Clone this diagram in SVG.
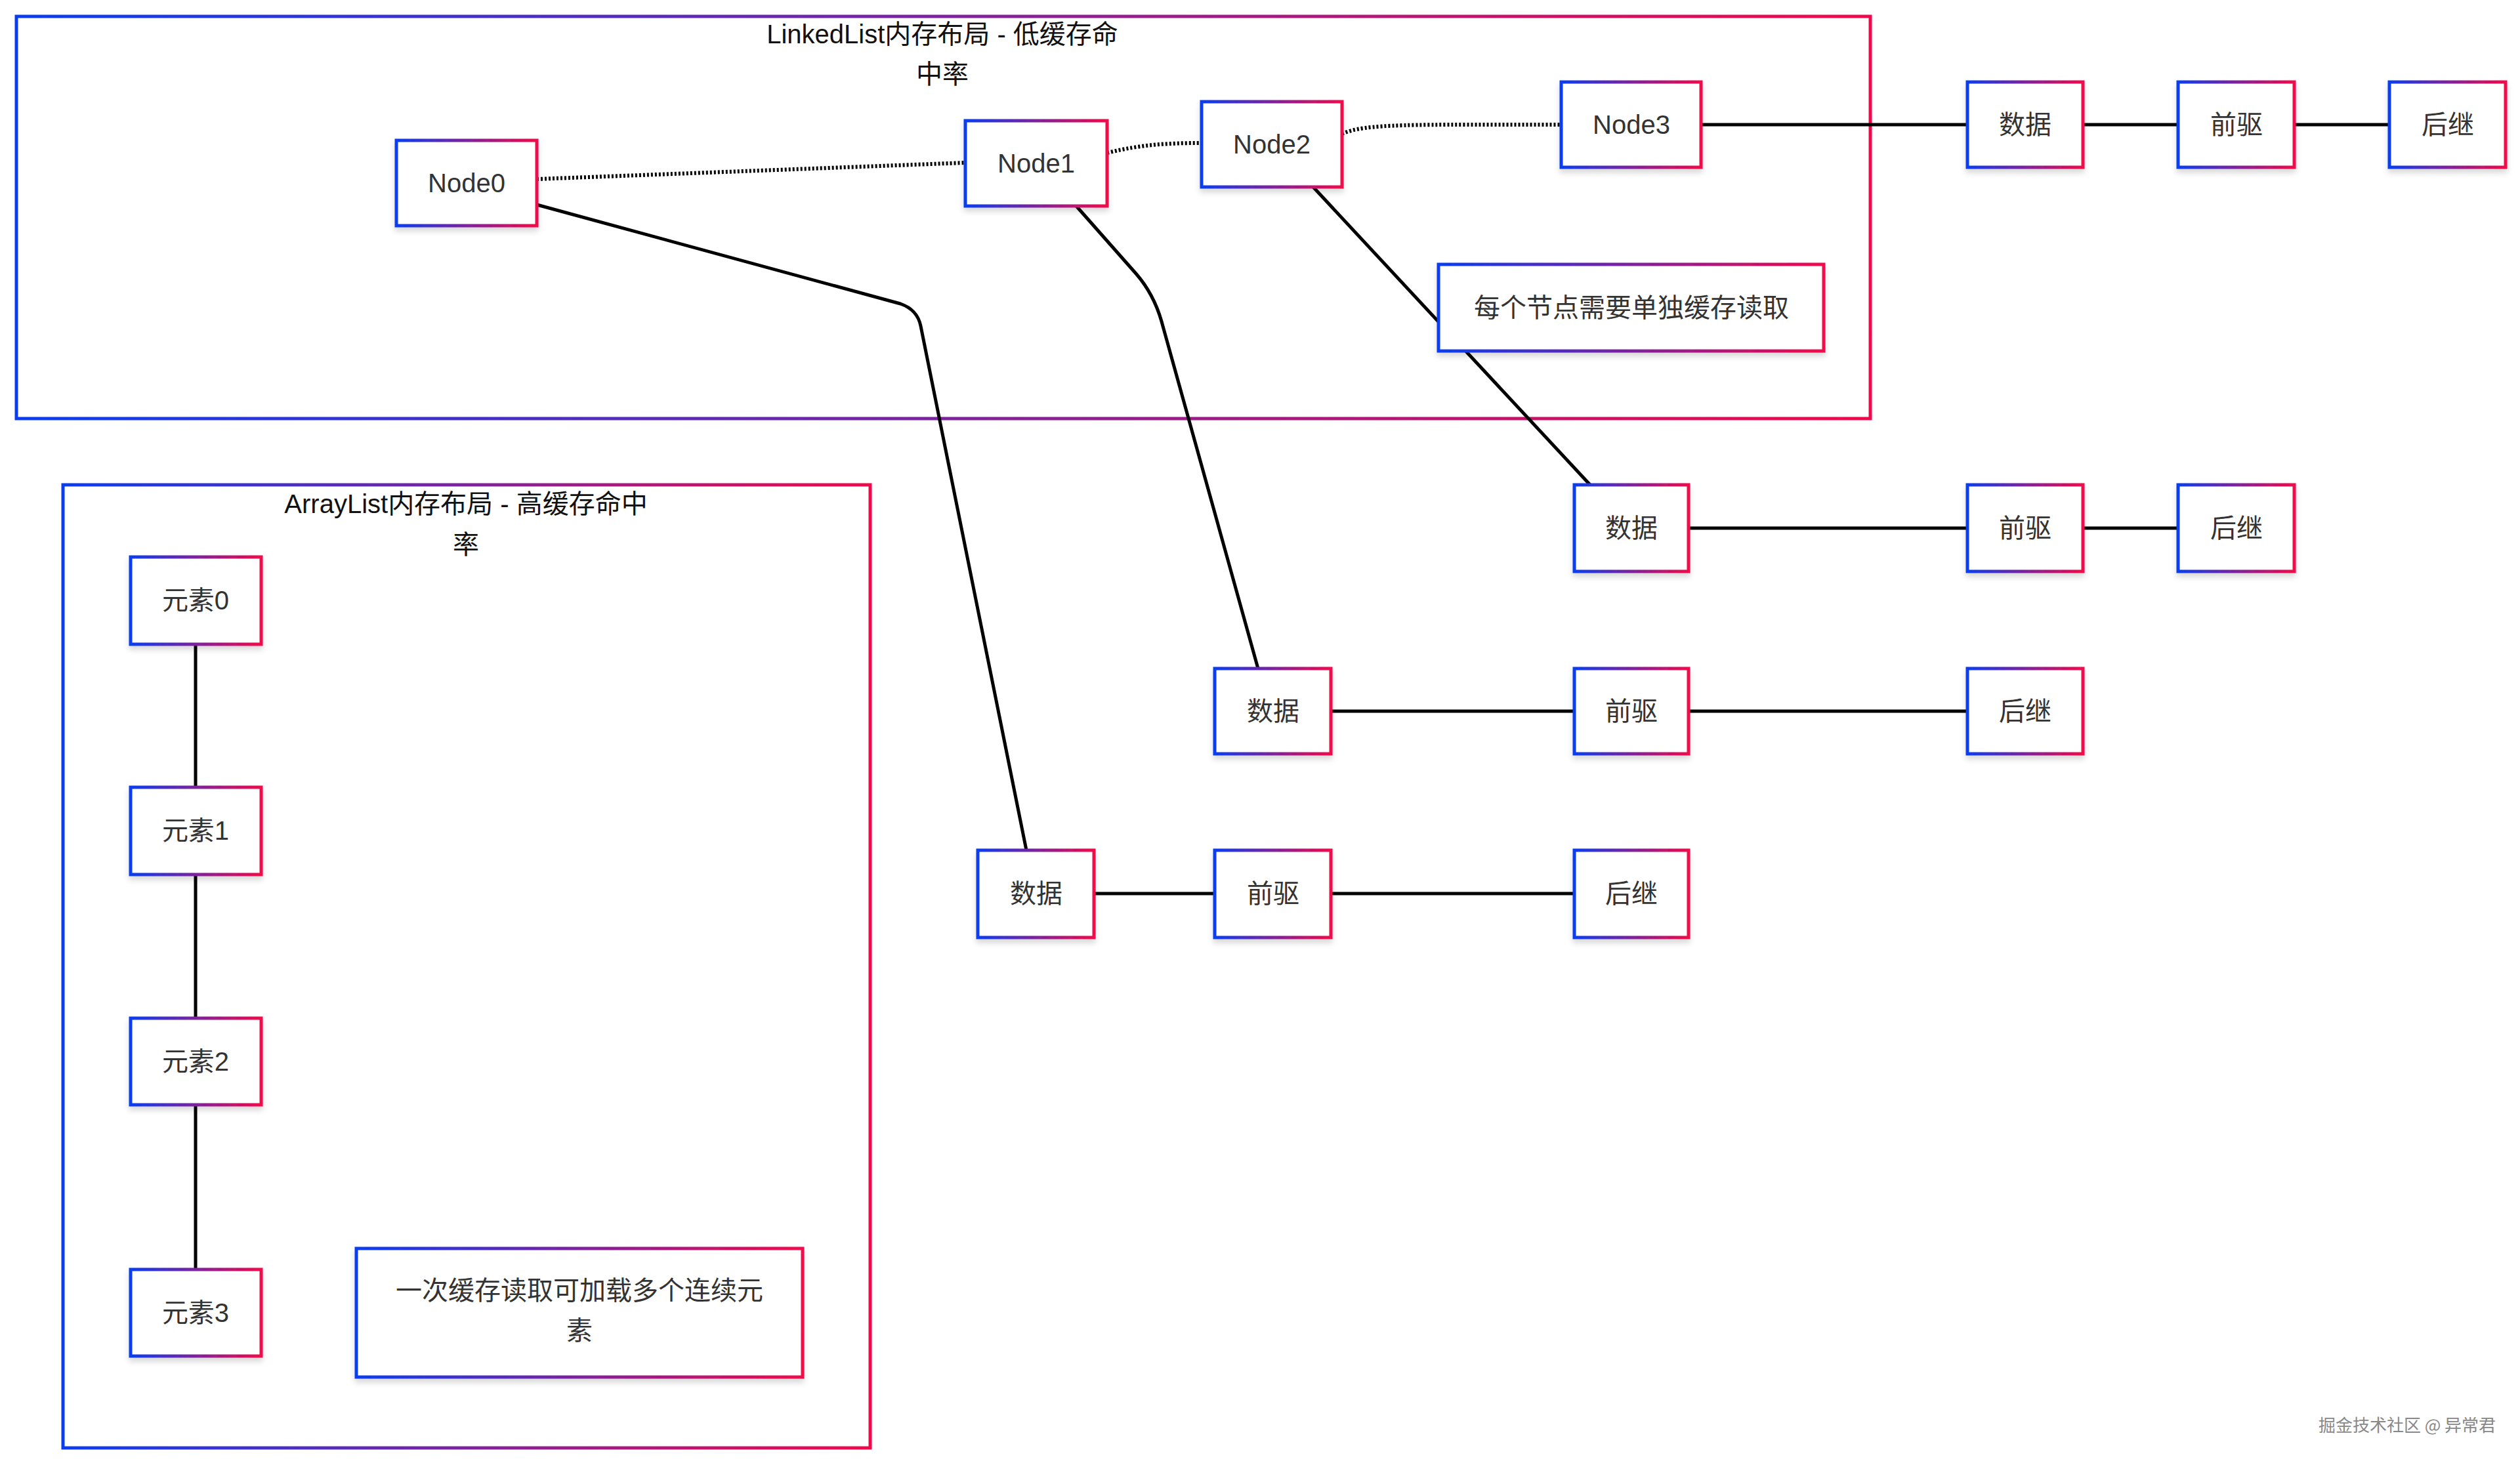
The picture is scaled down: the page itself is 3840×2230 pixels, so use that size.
<svg xmlns="http://www.w3.org/2000/svg" width="3840" height="2230" viewBox="0 0 3840 2230">
<defs>
<linearGradient id="g" x1="0" y1="0" x2="1" y2="0"><stop offset="0" stop-color="#0a3cf0"/><stop offset="1" stop-color="#f0084a"/></linearGradient>
<filter id="sh" x="-10%" y="-10%" width="120%" height="130%"><feDropShadow dx="0" dy="6" stdDeviation="4" flood-color="#000" flood-opacity="0.15"/></filter>
<style>
.b{fill:#fff;stroke:url(#g);stroke-width:5;filter:url(#sh)}
.c{fill:none;stroke:url(#g);stroke-width:5}
.t{font-family:"Liberation Sans","Noto Sans CJK SC",sans-serif;font-size:40px;fill:#333;text-anchor:middle;dominant-baseline:central}
.tt{font-family:"Liberation Sans","Noto Sans CJK SC",sans-serif;font-size:40px;fill:#111;text-anchor:middle;dominant-baseline:central}
.l{fill:none;stroke:#000;stroke-width:5}
.d{fill:none;stroke:#000;stroke-width:6;stroke-dasharray:3 3}
</style>
</defs>
<rect width="3840" height="2230" fill="#fff"/>
<g id="linkedlist">
<rect class="c" x="25" y="25" width="2825" height="613"/>
<text class="tt" x="1436" y="52">LinkedList内存布局 - 低缓存命</text>
<text class="tt" x="1436" y="113">中率</text>
</g>
<g id="arraylist">
<rect class="c" x="96" y="739" width="1230" height="1468"/>
<text class="tt" x="710" y="768">ArrayList内存布局 - 高缓存命中</text>
<text class="tt" x="710" y="830">率</text>
</g>
<g id="connectors">
<path class="d" d="M818 273 L1471 248"/>
<path class="d" d="M1687 233 C1740 220 1780 218 1831 218"/>
<path class="d" d="M2045 204 C2080 188 2150 190 2379 190"/>
<path class="l" d="M818 312 L1372 463 Q1398 472 1403 497 L1564 1296"/>
<path class="l" d="M1640 314 L1731 417 Q1758 448 1770 490 L1917 1019"/>
<path class="l" d="M2001 285 L2423 739"/>
<path class="l" d="M2592 190 H2998 M3174 190 H3319 M3496 190 H3641"/>
<path class="l" d="M2573 805 H2998 M3174 805 H3319"/>
<path class="l" d="M2028 1084 H2399 M2573 1084 H2998"/>
<path class="l" d="M1667 1362 H1851 M2028 1362 H2399"/>
<path class="l" d="M298 982 V1200 M298 1333 V1552 M298 1684 V1935"/>
</g>
<g id="node0"><rect class="b" x="604" y="214" width="214" height="130"/><text class="t" x="711" y="279">Node0</text></g>
<g id="node1"><rect class="b" x="1471" y="184" width="216" height="130"/><text class="t" x="1579" y="249">Node1</text></g>
<g id="node2"><rect class="b" x="1831" y="155" width="214" height="130"/><text class="t" x="1938" y="220">Node2</text></g>
<g id="node3"><rect class="b" x="2379" y="125" width="213" height="130"/><text class="t" x="2486" y="190">Node3</text></g>
<g id="note1"><rect class="b" x="2192" y="403" width="587" height="132"/><text class="t" x="2486" y="469">每个节点需要单独缓存读取</text></g>
<g id="r1data"><rect class="b" x="2998" y="125" width="176" height="130"/><text class="t" x="3086" y="190">数据</text></g>
<g id="r1prev"><rect class="b" x="3319" y="125" width="177" height="130"/><text class="t" x="3408" y="190">前驱</text></g>
<g id="r1next"><rect class="b" x="3641" y="125" width="177" height="130"/><text class="t" x="3730" y="190">后继</text></g>
<g id="r2data"><rect class="b" x="2399" y="739" width="174" height="132"/><text class="t" x="2486" y="805">数据</text></g>
<g id="r2prev"><rect class="b" x="2998" y="739" width="176" height="132"/><text class="t" x="3086" y="805">前驱</text></g>
<g id="r2next"><rect class="b" x="3319" y="739" width="177" height="132"/><text class="t" x="3408" y="805">后继</text></g>
<g id="r3data"><rect class="b" x="1851" y="1019" width="177" height="130"/><text class="t" x="1940" y="1084">数据</text></g>
<g id="r3prev"><rect class="b" x="2399" y="1019" width="174" height="130"/><text class="t" x="2486" y="1084">前驱</text></g>
<g id="r3next"><rect class="b" x="2998" y="1019" width="176" height="130"/><text class="t" x="3086" y="1084">后继</text></g>
<g id="r4data"><rect class="b" x="1490" y="1296" width="177" height="133"/><text class="t" x="1579" y="1362">数据</text></g>
<g id="r4prev"><rect class="b" x="1851" y="1296" width="177" height="133"/><text class="t" x="1940" y="1362">前驱</text></g>
<g id="r4next"><rect class="b" x="2399" y="1296" width="174" height="133"/><text class="t" x="2486" y="1362">后继</text></g>
<g id="e0"><rect class="b" x="199" y="849" width="199" height="133"/><text class="t" x="298" y="915">元素0</text></g>
<g id="e1"><rect class="b" x="199" y="1200" width="199" height="133"/><text class="t" x="298" y="1266">元素1</text></g>
<g id="e2"><rect class="b" x="199" y="1552" width="199" height="132"/><text class="t" x="298" y="1618">元素2</text></g>
<g id="e3"><rect class="b" x="199" y="1935" width="199" height="132"/><text class="t" x="298" y="2001">元素3</text></g>
<g id="note2"><rect class="b" x="543" y="1903" width="680" height="196"/><text class="t" x="883" y="1967">一次缓存读取可加载多个连续元</text><text class="t" x="883" y="2028">素</text></g>
<text x="3668" y="2170" font-family="'Noto Sans CJK SC',sans-serif" font-size="26" fill="#888" text-anchor="middle" dominant-baseline="central">掘金技术社区 @ 异常君</text>
</svg>
